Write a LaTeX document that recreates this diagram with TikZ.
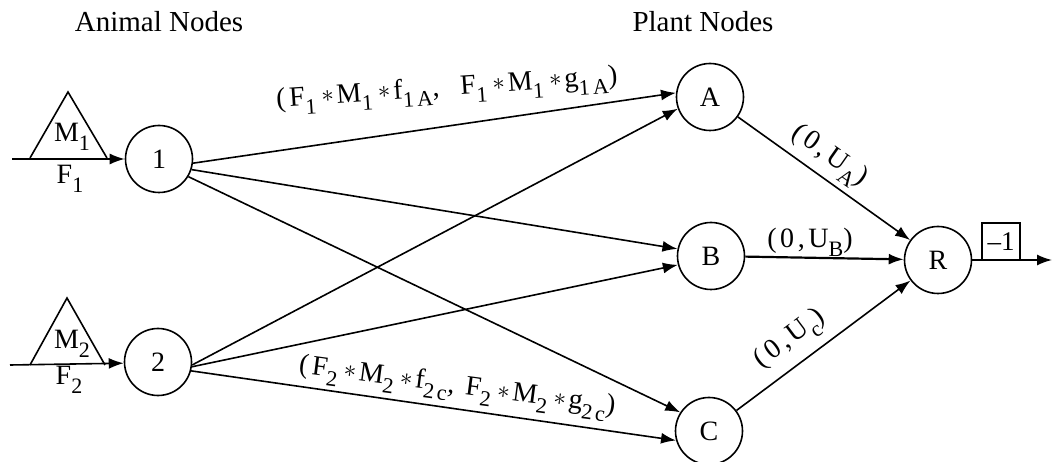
\documentclass[tikz,border=0pt]{standalone}
\usepackage{fontspec}
\setmainfont{Liberation Serif}
\newfontfamily\lf[LetterSpace=13]{Liberation Serif}
\usetikzlibrary{arrows.meta}
\newcommand{\sbs}[1]{\raisebox{-0.32em}{\fontsize{22}{22}\selectfont #1}}
\newcommand{\st}{\hspace{0.2em}\raisebox{0.05em}{$\ast$}\hspace{0.1em}}
\begin{document}
\begin{tikzpicture}[x=1pt,y=-1pt,
  every node/.style={font=\fontsize{28}{32}\selectfont},
  vtx/.style={circle,draw,line width=1.6pt,minimum size=67pt,inner sep=0pt},
  ln/.style={line width=1.6pt},
  arr/.style={line width=1.6pt,-{Latex[length=15pt,width=11pt]}},
  elab/.style={font=\lf\fontsize{28}{30}\selectfont,inner sep=0pt},
  ttl/.style={font=\fontsize{29}{32}\selectfont}]
\useasboundingbox (0,0) rectangle (1053,462);
% titles
\node[ttl] (t1) at (159,22) {Animal Nodes};
\node[ttl] (t2) at (703,22) {Plant Nodes};
% nodes
\node[vtx] (n1) at (159,159) {1};
\node[vtx] (n2) at (158,362) {2};
\node[vtx] (A) at (710,97) {A};
\node[vtx] (B) at (711,256) {B};
\node[vtx] (C) at (709,431) {C};
\node[vtx] (R) at (938,260) {R};
% triangles
\draw[ln,line join=miter] (30,158) -- (68,92) -- (107,158);
\draw[ln,line join=miter] (30,365) -- (67,298) -- (105,365);
\node[elab] (m1) at (72,137) {M\sbs{1}};
\node[elab] (f1) at (70,179) {F\sbs{1}};
\node[elab] (m2) at (72,344) {M\sbs{2}};
\node[elab] (f2) at (69,380) {F\sbs{2}};
% inputs
\coordinate (i1) at (12,159);
\coordinate (i2) at (10,365);
\draw[arr] (i1) -- (n1);
\draw[arr] (i2) -- (n2.182);
% animal to plant
\draw[arr] (n1.-7) -- (A.173);
\draw[arr] (n1.-18) -- (B.168);
\draw[arr] (n1.-31) -- (C.147);
\draw[arr] (n2.-5) -- (A.200);
\draw[arr] (n2.-8) -- (B.195);
\draw[arr] (n2.-15) -- (C.196);
% plant to R
\draw[arr] (A) -- (R);
\draw[arr,line width=2.2pt] (B) -- (R);
\draw[arr] (C) -- (R);
% output
\coordinate (o) at (1052,260);
\draw[arr] (R) -- (o);
\node[draw,ln,minimum width=38pt,minimum height=37pt,inner sep=0pt,anchor=south,font=\fontsize{27}{28}\selectfont] (box) at (1001,261) {\textendash 1};
% edge labels
\node[elab,rotate=4] (l1A) at (447,90) {(F\sbs{1}\st M\sbs{1}\st f\sbs{1A}, \ F\sbs{1}\st M\sbs{1}\st g\sbs{1A})};
\node[elab,rotate=-7.5] (l2C) at (457,388) {(F\sbs{2}\st M\sbs{2}\st f\sbs{2c}, F\sbs{2}\st M\sbs{2}\st g\sbs{2c})};
\node[elab,rotate=-35] (lA) at (829,157) {(0,U\sbs{A})};
\node[elab] (lB) at (810,242) {(0,U\sbs{B})};
\node[elab,rotate=37] (lC) at (791,340) {(0,U\sbs{c})};
\end{tikzpicture}
\end{document}
